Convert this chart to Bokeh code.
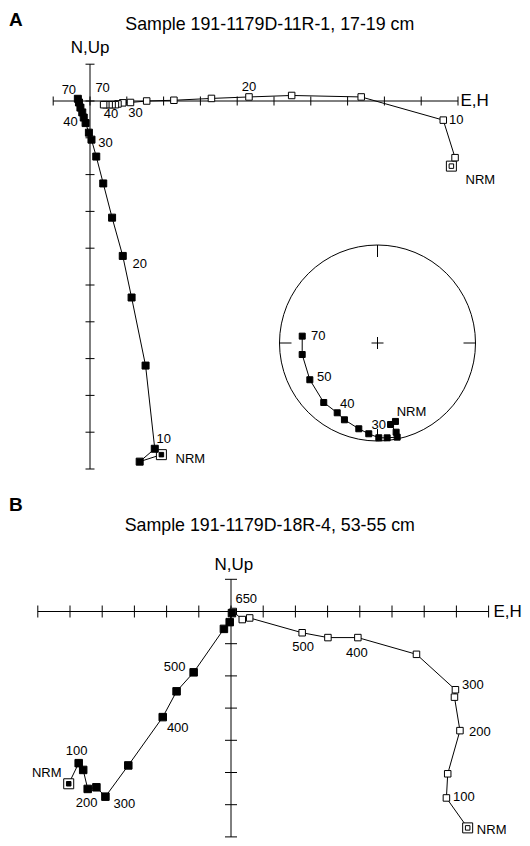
import math
from bokeh.plotting import figure
from bokeh.layouts import column
from bokeh.core.properties import value
from bokeh.embed import file_html
from bokeh.resources import INLINE

FONT = "Liberation Sans"

# ---------------- Panel A data ----------------
A_title = "Sample 191-1179D-11R-1, 17-19 cm"
# horizontal projection (open squares): E,H vs N
A_h_x = [9.82, 9.92, 9.60, 7.37, 5.48, 4.32, 3.30, 2.28, 1.54, 1.10, 0.89, 0.76, 0.69, 0.60, 0.52, 0.43, 0.37]
A_h_y = [-1.77, -1.54, -0.52, 0.11, 0.15, 0.11, 0.07, 0.02, 0.00, -0.04, -0.05, -0.08, -0.10, -0.10, -0.10, -0.10, -0.10]
A_h_lab = ["NRM", "", "10", "", "", "20", "", "", "", "30", "", "", "", "40", "", "", "70"]
# vertical projection (closed squares): H vs Up
A_v_x = [1.94, 1.35, 1.76, 1.51, 1.13, 0.89, 0.60, 0.36, 0.17, 0.04, -0.03, -0.12, -0.17, -0.21, -0.26, -0.30, -0.33]
A_v_y = [-9.61, -9.80, -9.45, -7.19, -5.34, -4.21, -3.17, -2.24, -1.51, -1.05, -0.86, -0.60, -0.45, -0.31, -0.18, -0.04, 0.06]
A_v_lab = ["NRM", "", "10", "", "", "20", "", "", "", "30", "", "40", "", "", "", "", "70"]
# equal-area stereonet (lower hemisphere, closed squares)
A_dec = [167.1, 170.9, 168.2, 168.2, 174.2, 179.2, 185.5, 192.3, 203.3, 210.0, 222.1, 241.5, 261.3, 275.2]
A_inc = [19.0, 16.9, 7.8, 2.1, 3.1, 3.7, 7.7, 11.4, 15.8, 18.9, 19.3, 22.5, 23.3, 23.9]
A_s_lab = ["NRM", "", "", "", "", "30", "", "", "", "40", "", "50", "", "70"]
A_xticks = list(range(-1, 11))
A_yticks = list(range(-10, 2))

# ---------------- Panel B data ----------------
B_title = "Sample 191-1179D-18R-4, 53-55 cm"
B_steps = ["NRM", "100", "150", "200", "250", "300", "350", "400", "450", "500", "550", "600", "650"]
B_h_x = [7.35, 6.69, 6.73, 7.11, 6.94, 6.97, 5.76, 3.94, 3.01, 2.21, 0.58, 0.35, 0.07]
B_h_y = [-6.72, -5.79, -5.04, -3.70, -2.66, -2.43, -1.33, -0.81, -0.81, -0.66, -0.20, -0.25, 0.00]
B_v_x = [-5.04, -4.73, -4.59, -4.45, -4.18, -3.90, -3.19, -2.12, -1.69, -1.16, -0.22, -0.04, 0.03]
B_v_y = [-5.35, -4.71, -4.92, -5.51, -5.46, -5.75, -4.78, -3.28, -2.48, -1.89, -0.54, -0.33, -0.05]
B_h_show = ["NRM", "100", "200", "300", "400", "500", "650"]
B_v_show = ["NRM", "100", "200", "300", "400", "500"]
B_xticks = list(range(-6, 9))
B_yticks = list(range(-7, 2))

# ---------------- layout (pixels) ----------------
W = 530
HA, HB = 488, 358
A_ox, A_oy, A_s = 89.5, 100.5, 36.8      # origin in figure px, px per unit
B_ox, B_oy, B_s = 230.5, 123.0, 32.2
TOPA, TOPB = 0, 488                       # page y of each figure's top

# label offsets (px right, px down) of text centre from its point
A_h_off = {"NRM": (29, 13.5), "10": (13, 0), "20": (0, -9.5), "30": (5, 11), "40": (-1, 9), "70": (-1, -17)}
A_v_off = {"NRM": (29, 4), "10": (9, -10), "20": (17, 8), "30": (14, 3), "40": (-15, -1), "70": (-9, -9)}
A_s_off = {"NRM": (16, -9.5), "30": (0, -13), "40": (10, -9), "50": (14.5, -3), "70": (16, 0)}
B_h_off = {"NRM": (24, 2), "100": (17.5, -0.5), "200": (20, 1), "300": (17.5, -5), "400": (-1, 15), "500": (1, 14), "650": (13, -12)}
B_v_off = {"NRM": (-22, -11), "100": (-2, -12), "200": (-1, 14.5), "300": (19, 7), "400": (15, 11), "500": (-19, -5)}

NUM_FS = 13
CAPH = 0.716
FIX = 0.40   # renderer draws text ~0.4em below the requested baseline


def mkfig(h, ox, oy, s):
    p = figure(width=W, height=h,
               x_range=(-ox / s, (W - ox) / s),
               y_range=((oy - h) / s, oy / s),
               toolbar_location=None, output_backend="svg",
               x_axis_type=None, y_axis_type=None, min_border=0)
    p.outline_line_color = None
    p.background_fill_color = "white"
    p.border_fill_color = "white"
    return p


def conv(ox, oy, s, top):
    def f(x, y):
        return ((x - ox) / s, (oy - (y - top)) / s)
    return f


def txt(p, f, x, y, t, size, align="center", bold=False):
    dx, dy = f(x, y - FIX * size)
    p.text(x=[dx], y=[dy], text=[t], text_font=value(FONT),
           text_font_size=value(f"{size}px"), text_align=align,
           text_baseline="alphabetic", text_color="black",
           text_font_style="bold" if bold else "normal")


def point_labels(p, xs, ys, labs, offs, s):
    lx, ly, lt = [], [], []
    for x, y, t in zip(xs, ys, labs):
        if t and t in offs:
            dx, dy = offs[t]
            lx.append(x + dx / s)
            ly.append(y - (dy + CAPH * NUM_FS / 2 - FIX * NUM_FS) / s)
            lt.append(t)
    p.text(x=lx, y=ly, text=lt, text_font=value(FONT),
           text_font_size=value(f"{NUM_FS}px"), text_align="center",
           text_baseline="alphabetic", text_color="black")


def axes(p, xt, yt, s, tick_px):
    t = tick_px / s
    p.segment(x0=[min(xt)], y0=[0], x1=[max(xt)], y1=[0], line_color="black", line_width=1)
    p.segment(x0=[0], y0=[min(yt)], x1=[0], y1=[max(yt)], line_color="black", line_width=1)
    p.segment(x0=xt, y0=[-t] * len(xt), x1=xt, y1=[t] * len(xt), line_color="black", line_width=1)
    p.segment(x0=[-t] * len(yt), y0=yt, x1=[t] * len(yt), y1=yt, line_color="black", line_width=1)


def series(p, xs, ys, filled, size):
    fc = "black" if filled else "white"
    p.line(xs, ys, line_color="black", line_width=1)
    p.scatter([xs[0]], [ys[0]], marker="square", size=10, fill_color="white", line_color="black", line_width=1)
    p.scatter(xs[1:], ys[1:], marker="square", size=size, fill_color=fc, line_color="black", line_width=1)
    p.scatter([xs[0]], [ys[0]], marker="square", size=4.5, fill_color=fc, line_color="black", line_width=1)


# ---------------- Panel A ----------------
pA = mkfig(HA, A_ox, A_oy, A_s)
pa = conv(A_ox, A_oy, A_s, TOPA)
axes(pA, A_xticks, A_yticks, A_s, 4.5)
series(pA, A_h_x, A_h_y, False, 6.5)
series(pA, A_v_x, A_v_y, True, 7)
point_labels(pA, A_h_x, A_h_y, A_h_lab, A_h_off, A_s)
point_labels(pA, A_v_x, A_v_y, A_v_lab, A_v_off, A_s)

# stereonet
cx, cy = pa(377, 342.5)
R = 98 / A_s
pA.circle(x=[cx], y=[cy], radius=R, fill_color=None, line_color="black", line_width=1)
tk = 12 / A_s
cr = 6 / A_s
pA.segment(x0=[cx, cx, cx - R, cx + R, cx - cr, cx],
           y0=[cy + R, cy - R, cy, cy, cy, cy - cr],
           x1=[cx, cx, cx - R + tk, cx + R - tk, cx + cr, cx],
           y1=[cy + R - tk, cy - R + tk, cy, cy, cy, cy + cr],
           line_color="black", line_width=1)
sx, sy = [], []
for d, i in zip(A_dec, A_inc):
    rho = R * math.sqrt(2) * math.sin(math.radians((90 - abs(i)) / 2))
    sx.append(cx + rho * math.sin(math.radians(d)))
    sy.append(cy + rho * math.cos(math.radians(d)))
pA.line(sx, sy, line_color="black", line_width=1)
pA.scatter(sx, sy, marker="square", size=6, fill_color="black", line_color="black")
point_labels(pA, sx, sy, A_s_lab, A_s_off, A_s)

txt(pA, pa, 8.4, 26.4, "A", 19, align="left", bold=True)
txt(pA, pa, 269.3, 30.3, A_title, 17.8)
txt(pA, pa, 89.5, 54, "N,Up", 17)
txt(pA, pa, 460, 106.8, "E,H", 17, align="left")

# ---------------- Panel B ----------------
pB = mkfig(HB, B_ox, B_oy, B_s)
pb = conv(B_ox, B_oy, B_s, TOPB)
axes(pB, B_xticks, B_yticks, B_s, 6)
series(pB, B_h_x, B_h_y, False, 6.5)
series(pB, B_v_x, B_v_y, True, 7.5)
point_labels(pB, B_h_x, B_h_y, [t if t in B_h_show else "" for t in B_steps], B_h_off, B_s)
point_labels(pB, B_v_x, B_v_y, [t if t in B_v_show else "" for t in B_steps], B_v_off, B_s)

txt(pB, pb, 8.4, 512, "B", 19, align="left", bold=True)
txt(pB, pb, 269.3, 531.5, B_title, 17.8)
txt(pB, pb, 233.3, 570.7, "N,Up", 17)
txt(pB, pb, 493, 617.8, "E,H", 17, align="left")

layout = column(pA, pB, spacing=0)
open("out.html", "w").write(file_html(layout, INLINE))
